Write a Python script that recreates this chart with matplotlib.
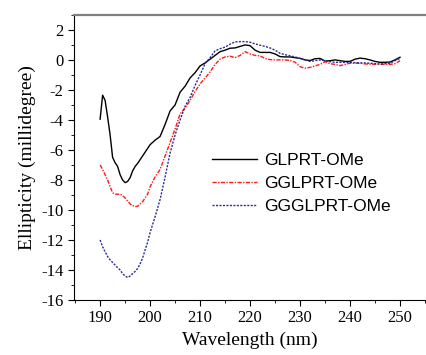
import matplotlib
matplotlib.use("Agg")
import matplotlib.pyplot as plt
from matplotlib.ticker import MultipleLocator

# CD spectra
wavelength = [190, 190.5, 191, 191.5, 192, 192.5, 193, 193.5, 194, 194.5,
              195, 195.5, 196, 196.5, 197, 197.5, 198, 198.5, 199, 199.5,
              200] + list(range(201, 251))

glprt = [-3.95, -2.35, -2.7, -3.8, -5.0, -6.5, -6.85, -7.1, -7.65, -8.0,
         -8.18, -8.1, -7.85, -7.4, -7.1, -6.9, -6.65, -6.4, -6.15, -5.9,
         -5.65, -5.35, -5.1, -4.3, -3.4, -3.0, -2.15, -1.75, -1.2, -0.85,
         -0.4, -0.2, 0.05, 0.3, 0.55, 0.65, 0.78, 0.8, 0.9, 1.0,
         0.95, 0.65, 0.5, 0.5, 0.5, 0.4, 0.22, 0.2, 0.2, 0.15,
         0.1, 0.0, -0.04, 0.08, 0.1, -0.08, -0.05, 0.0, -0.05, -0.1,
         -0.1, 0.05, 0.12, 0.08, 0.0, -0.1, -0.16, -0.16, -0.14, 0.0,
         0.18]

gglprt = [-7.0, -7.3, -7.65, -8.0, -8.45, -8.85, -8.95, -8.95, -8.95, -9.05,
          -9.2, -9.4, -9.6, -9.7, -9.78, -9.75, -9.6, -9.45, -9.2, -8.95,
          -8.45, -7.8, -7.3, -6.4, -5.5, -4.6, -3.6, -3.2, -2.7, -2.1,
          -1.6, -1.2, -0.8, -0.3, 0.05, 0.2, 0.25, 0.15, 0.3, 0.55,
          0.4, 0.3, 0.27, 0.1, 0.02, 0.0, 0.0, 0.0, -0.04, -0.15,
          -0.45, -0.55, -0.5, -0.4, -0.3, -0.12, -0.25, -0.3, -0.38, -0.3,
          -0.22, -0.22, -0.22, -0.27, -0.28, -0.29, -0.29, -0.29, -0.3, -0.25,
          -0.05]

ggglprt = [-12.0, -12.45, -12.8, -13.1, -13.33, -13.5, -13.67, -13.85, -14.0, -14.25,
           -14.4, -14.5, -14.4, -14.25, -14.1, -13.9, -13.6, -13.2, -12.67, -12.15,
           -11.5, -10.45, -9.3, -7.8, -6.2, -5.0, -4.0, -3.1, -2.5, -1.7,
           -1.0, -0.25, 0.15, 0.6, 0.75, 0.85, 1.05, 1.2, 1.22, 1.22,
           1.18, 1.07, 0.98, 0.9, 0.8, 0.65, 0.44, 0.35, 0.27, 0.2,
           0.1, 0.0, -0.1, -0.05, 0.0, -0.05, -0.12, -0.16, -0.16, -0.16,
           -0.17, -0.18, -0.2, -0.2, -0.22, -0.25, -0.27, -0.25, -0.22, -0.05,
           0.1]

labels = ["GLPRT-OMe", "GGLPRT-OMe", "GGGLPRT-OMe"]

plt.rcParams["font.family"] = "Liberation Serif"
plt.rcParams["axes.unicode_minus"] = False

fig = plt.figure(figsize=(4.26, 3.55), dpi=100)
ax = fig.add_axes([0.174, 0.155, 0.826, 0.803])

ax.plot(wavelength, glprt, color="black", lw=1.0, label=labels[0])
ax.plot(wavelength, gglprt, color="#ff1a1a", lw=1.0, ls=(0, (3, 1, 1, 1)), label=labels[1])
ax.plot(wavelength, ggglprt, color="#2a2a9a", lw=1.0, ls=(0, (1.5, 1)), label=labels[2])

ax.set_xlim(184.8, 255.2)
ax.set_ylim(-16, 3)
ax.xaxis.set_major_locator(MultipleLocator(10))
ax.xaxis.set_minor_locator(MultipleLocator(5))
ax.yaxis.set_major_locator(MultipleLocator(2))
ax.yaxis.set_minor_locator(MultipleLocator(1))
ax.tick_params(which="both", direction="out", labelsize=12)
ax.tick_params(which="major", length=4)
ax.tick_params(which="minor", length=2.5)

ax.spines["right"].set_visible(False)
ax.spines["top"].set_color("#808080")
ax.spines["top"].set_linewidth(1.6)

ax.set_xlabel("Wavelength (nm)", fontsize=14, labelpad=4)
ax.set_ylabel("Ellipticity (millidegree)", fontsize=14, labelpad=4)

ax.legend(frameon=False, loc="upper left", bbox_to_anchor=(0.347, 0.572),
          prop={"family": "Liberation Sans", "size": 12.5},
          handlelength=2.6, handletextpad=0.4, labelspacing=0.45)

fig.savefig("out.png", dpi=100)
